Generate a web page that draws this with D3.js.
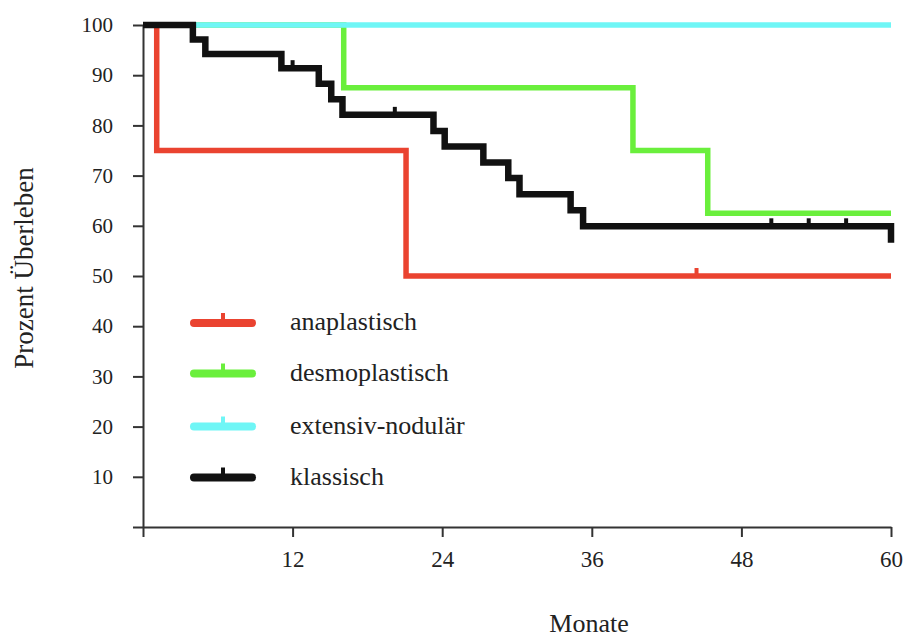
<!DOCTYPE html>
<html>
<head>
<meta charset="utf-8">
<script src="https://cdn.jsdelivr.net/npm/d3@7"></script>
<style>
  html, body { margin: 0; padding: 0; background: #fff; }
  svg { display: block; }
  text { font-family: "Liberation Serif", "Times New Roman", "DejaVu Serif", serif; fill: #222; }
</style>
</head>
<body>
<svg id="chart" width="910" height="639"></svg>
<script>
// Kaplan-Meier survival by histological subtype: [month, percent surviving]
const anaplastisch = [[0, 100], [1.1, 75], [21.1, 50], [60, 50]];
const desmoplastisch = [[0, 100], [16.1, 87.5], [39.3, 75], [45.3, 62.5], [60, 62.5]];
const extensivNodular = [[0, 100], [60, 100]];
const klassisch = [
  [0, 100], [4.0, 97.1], [5.0, 94.2], [11.1, 91.4], [14.1, 88.3], [15.1, 85.2],
  [16.0, 82.1], [23.3, 78.9], [24.2, 75.8], [27.3, 72.6], [29.3, 69.5],
  [30.2, 66.3], [34.3, 63.1], [35.3, 59.9], [60, 56.6]
];

// Censored observations (tick marks)
const anaplastischCensored = [[44.4, 50]];
const klassischCensored = [[12.0, 91.4], [20.2, 82.1], [50.4, 59.9], [53.4, 59.9], [56.4, 59.9]];

const xTicks = [0, 12, 24, 36, 48, 60];
const yTicks = [0, 10, 20, 30, 40, 50, 60, 70, 80, 90, 100];

const legendLabels = ["anaplastisch", "desmoplastisch", "extensiv-nodulär", "klassisch"];
const colors = {
  anaplastisch: "#ea4330",
  desmoplastisch: "#6aef3c",
  extensiv: "#6ff6f6",
  klassisch: "#111111"
};

const serif = '"Liberation Serif", "Times New Roman", "DejaVu Serif", serif';

const svg = d3.select("#chart");

const x = d3.scaleLinear().domain([0, 60]).range([143, 891]);
const y = d3.scaleLinear().domain([0, 100]).range([527, 25]);

// Axes
const xAxis = d3.axisBottom(x)
  .tickValues(xTicks)
  .tickSize(10)
  .tickSizeOuter(0)
  .tickPadding(14)
  .tickFormat(d => d === 0 ? "" : d);

const yAxis = d3.axisLeft(y)
  .tickValues(yTicks)
  .tickSize(10)
  .tickSizeOuter(0)
  .tickPadding(20)
  .tickFormat(d => d === 0 ? "" : d);

const gx = svg.append("g").attr("transform", `translate(0,${y(0)})`).call(xAxis)
  .attr("font-family", serif);
gx.selectAll("text").style("font-size", "23px").style("font-family", serif).attr("fill", "#222");

const gy = svg.append("g").attr("transform", `translate(${x(0)},0)`).call(yAxis)
  .attr("font-family", serif);
gy.selectAll("text").style("font-size", "21px").style("font-family", serif).attr("fill", "#222");

svg.selectAll(".domain, .tick line").attr("stroke", "#333").attr("stroke-width", 2);

// Survival curves
const line = d3.line()
  .x(d => x(d[0]))
  .y(d => y(d[1]))
  .curve(d3.curveStepAfter);

const series = [
  { data: desmoplastisch, color: colors.desmoplastisch, width: 5.5, censored: [] },
  { data: anaplastisch, color: colors.anaplastisch, width: 5.5, censored: anaplastischCensored },
  { data: extensivNodular, color: colors.extensiv, width: 5.5, censored: [] },
  { data: klassisch, color: colors.klassisch, width: 6.5, censored: klassischCensored }
];

series.forEach(s => {
  svg.append("path")
    .datum(s.data)
    .attr("fill", "none")
    .attr("stroke", s.color)
    .attr("stroke-width", s.width)
    .attr("stroke-linejoin", "miter")
    .attr("stroke-linecap", "butt")
    .attr("d", line);

  svg.selectAll(null)
    .data(s.censored)
    .enter()
    .append("line")
    .attr("x1", d => x(d[0]))
    .attr("x2", d => x(d[0]))
    .attr("y1", d => y(d[1]))
    .attr("y2", d => y(d[1]) - 8)
    .attr("stroke", s.color)
    .attr("stroke-width", 4);
});

// Legend
const legendColors = [colors.anaplastisch, colors.desmoplastisch, colors.extensiv, colors.klassisch];
const legendY = [323, 373.5, 426.5, 477.5];
const legend = svg.append("g");
legendLabels.forEach((label, i) => {
  const ly = legendY[i];
  legend.append("line")
    .attr("x1", 194).attr("x2", 252)
    .attr("y1", ly).attr("y2", ly)
    .attr("stroke", legendColors[i])
    .attr("stroke-width", 8)
    .attr("stroke-linecap", "round");
  legend.append("line")
    .attr("x1", 223).attr("x2", 223)
    .attr("y1", ly).attr("y2", ly - 10)
    .attr("stroke", legendColors[i])
    .attr("stroke-width", 4);
  legend.append("text")
    .attr("x", 290)
    .attr("y", ly + 7)
    .style("font-size", "26px")
    .style("font-family", serif)
    .text(label);
});

// Axis titles
svg.append("text")
  .attr("x", 589)
  .attr("y", 632)
  .attr("text-anchor", "middle")
  .style("font-size", "26px")
  .style("font-family", serif)
  .text("Monate");

svg.append("text")
  .attr("transform", "translate(33,268) rotate(-90)")
  .attr("text-anchor", "middle")
  .style("font-size", "27px")
  .style("font-family", serif)
  .text("Prozent Überleben");
</script>
</body>
</html>
